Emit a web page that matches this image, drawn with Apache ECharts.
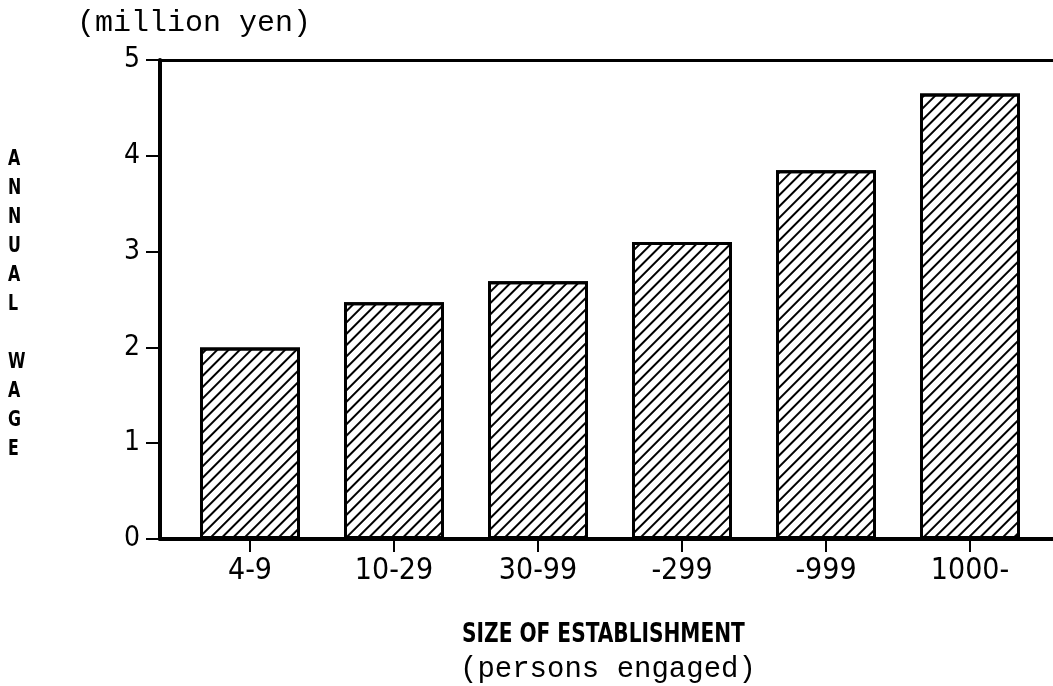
<!DOCTYPE html>
<html>
<head>
<meta charset="utf-8">
<script src="https://cdn.jsdelivr.net/npm/echarts@6/dist/echarts.min.js"></script>
<style>
  html, body { margin: 0; padding: 0; background: #fff; }
  #myChart { width: 1053px; height: 686px; }
</style>
</head>
<body>
<div id="myChart"></div>
<script>
  // data
  let categories = ['4-9', '10-29', '30-99', '-299', '-999', '1000-'];
  let wages = [2.0, 2.47, 2.69, 3.10, 3.85, 4.65];
  let yTicks = [0, 1, 2, 3, 4, 5];

  let narrow = '"Liberation Sans Narrow", "DejaVu Sans Condensed", sans-serif';
  let mono = '"Liberation Mono", "DejaVu Sans Mono", monospace';

  let myChart = echarts.init(document.getElementById('myChart'));
  myChart.setOption({
    animation: false,
    backgroundColor: '#fff',
    grid: [
      // frame
      { left: 160, right: -2, top: 60, bottom: 147 },
      // bars
      { left: 178, right: 11, top: 60, bottom: 147 }
    ],
    xAxis: [
      {
        gridIndex: 0, type: 'value', min: 0, max: 1, position: 'bottom',
        axisLine: { show: true, lineStyle: { color: '#000', width: 4 } },
        axisTick: { show: false }, axisLabel: { show: false }, splitLine: { show: false }
      },
      {
        gridIndex: 0, type: 'value', min: 0, max: 1, position: 'top',
        axisLine: { show: true, lineStyle: { color: '#000', width: 3 } },
        axisTick: { show: false }, axisLabel: { show: false }, splitLine: { show: false }
      },
      {
        gridIndex: 1, type: 'category', data: categories, position: 'bottom',
        axisLine: { show: false },
        axisTick: { show: true, alignWithLabel: true, length: 13, lineStyle: { color: '#000', width: 2 } },
        axisLabel: { color: '#000', fontFamily: narrow, fontSize: 30, margin: 17 }
      }
    ],
    yAxis: [
      {
        gridIndex: 0, type: 'value', min: 0, max: 5, interval: 1,
        axisLine: { show: true, lineStyle: { color: '#000', width: 4 } },
        axisTick: { show: true, length: 14, lineStyle: { color: '#000', width: 2 } },
        axisLabel: {
          color: '#000', fontFamily: narrow, fontSize: 28, margin: 20,
          formatter: function (v) { return yTicks.indexOf(v) >= 0 ? String(v) : ''; }
        },
        splitLine: { show: false }
      },
      {
        gridIndex: 1, type: 'value', min: 0, max: 5, show: false
      }
    ],
    series: [{
      type: 'bar',
      xAxisIndex: 2,
      yAxisIndex: 1,
      data: wages,
      barWidth: 100,
      itemStyle: {
        color: '#fff',
        borderColor: '#000',
        borderWidth: 3,
        decal: {
          symbol: 'rect',
          symbolSize: 1,
          color: '#000',
          dashArrayX: [1, 0],
          dashArrayY: [2, 6],
          rotation: -Math.PI / 4
        }
      }
    }],
    graphic: [
      {
        type: 'text', left: 77, top: 8,
        style: { text: '(million yen)', font: '30px ' + mono, fill: '#000' }
      },
      {
        type: 'text', left: 8, top: 145, scaleX: 0.8,
        style: {
          text: 'A\nN\nN\nU\nA\nL\n\nW\nA\nG\nE',
          font: 'bold 22px ' + narrow, lineHeight: 29, fill: '#000', align: 'left'
        }
      },
      {
        type: 'text', left: 462, top: 621, scaleX: 0.83,
        style: { text: 'SIZE OF ESTABLISHMENT', font: 'bold 27px ' + narrow, fill: '#000' }
      },
      {
        type: 'text', left: 460, top: 655,
        style: { text: '(persons engaged)', font: '29px ' + mono, fill: '#000' }
      }
    ]
  });
</script>
</body>
</html>
